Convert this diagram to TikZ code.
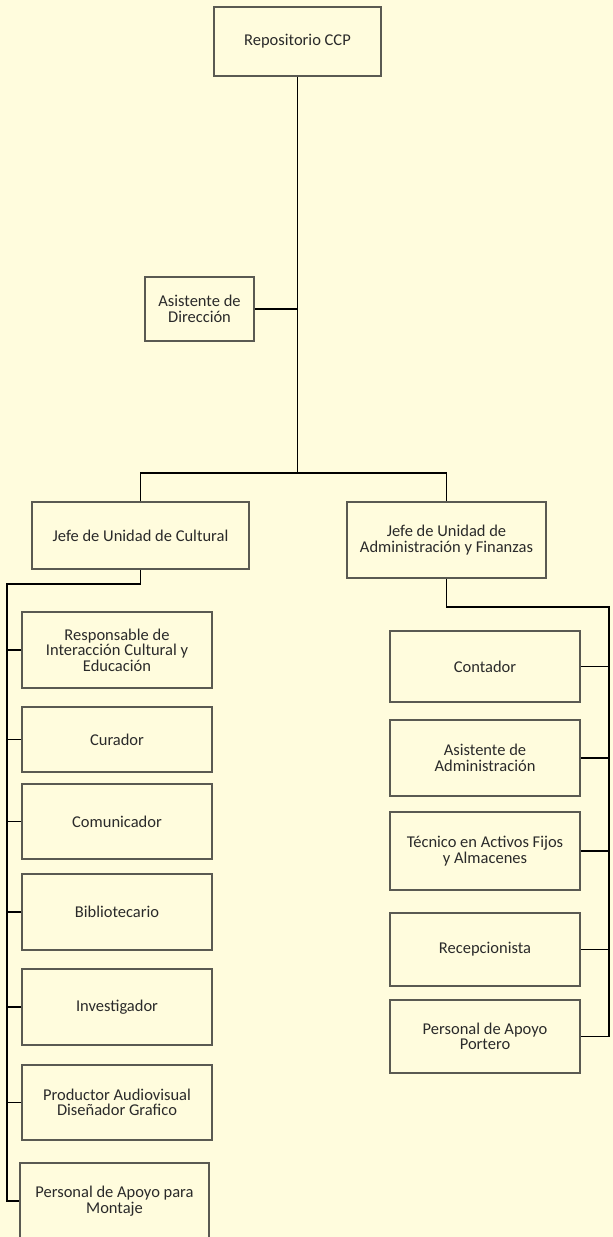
\documentclass[tikz,border=0pt]{standalone}
\usepackage{fontspec}
\setmainfont{Carlito}
\definecolor{paper}{HTML}{FFFCDD}
\definecolor{boxline}{HTML}{5A5A52}
\definecolor{ink}{HTML}{2A2A2A}
\tikzset{
orgbox/.style={draw=boxline,line width=1.2pt,inner sep=0pt,align=center,text=ink,
  font=\fontsize{16.5pt}{15.5pt}\selectfont},
link/.style={draw=black,line width=1.5pt}
}
\begin{document}
\begin{tikzpicture}[x=1pt,y=-1pt]
\fill[paper] (0,0) rectangle (613,1237);
\useasboundingbox (0,0) rectangle (613,1237);
\node[orgbox,minimum width=167pt,minimum height=69pt] (repo) at (297.5,41.5) {Repositorio CCP};
\node[orgbox,minimum width=109pt,minimum height=64pt] (asist) at (199.5,309) {Asistente de\\Dirección};
\node[orgbox,minimum width=217pt,minimum height=67pt] (jcult) at (140.5,535.5) {Jefe de Unidad de Cultural};
\node[orgbox,minimum width=199pt,minimum height=76pt] (jadm) at (446.5,540) {Jefe de Unidad de\\Administración y Finanzas};
\node[orgbox,minimum width=190pt,minimum height=76pt] (resp) at (117,650) {Responsable de\\Interacción Cultural y\\Educación};
\node[orgbox,minimum width=190pt,minimum height=65pt] (cura) at (117,739.5) {Curador};
\node[orgbox,minimum width=190pt,minimum height=75pt] (comu) at (117,821.5) {Comunicador};
\node[orgbox,minimum width=190pt,minimum height=76pt] (bibl) at (117,912) {Bibliotecario};
\node[orgbox,minimum width=190pt,minimum height=76pt] (inve) at (117,1007) {Investigador};
\node[orgbox,minimum width=190pt,minimum height=75pt] (prod) at (117,1102.5) {Productor Audiovisual\\Diseñador Grafico};
\node[orgbox,minimum width=189pt,minimum height=76pt] (mont) at (114.5,1201) {Personal de Apoyo para\\Montaje};
\node[orgbox,minimum width=190pt,minimum height=71pt] (cont) at (485,666.5) {Contador};
\node[orgbox,minimum width=190pt,minimum height=76pt] (asad) at (485,758) {Asistente de\\Administración};
\node[orgbox,minimum width=190pt,minimum height=78pt] (tecn) at (485,851) {Técnico en Activos Fijos\\y Almacenes};
\node[orgbox,minimum width=190pt,minimum height=73pt] (rece) at (485,949.5) {Recepcionista};
\node[orgbox,minimum width=190pt,minimum height=73pt] (port) at (485,1036.5) {Personal de Apoyo\\Portero};
\coordinate (hub) at (297.5,473);
\coordinate (lbus) at (7,584);
\coordinate (rbus) at (609,607);
\draw[link] (repo.south) -- (hub);
\draw[link] (asist.east) -- (asist.east -| hub);
\draw[link] (jcult.north) |- (hub) -| (jadm.north);
\draw[link] (jcult.south) |- (lbus) -- (lbus |- mont.west) -- (mont.west);
\foreach \n in {resp,cura,comu,bibl,inve,prod}
\draw[link] (\n.west) -- (\n.west -| lbus);
\draw[link] (jadm.south) |- (rbus) -- (rbus |- port.east) -- (port.east);
\foreach \n in {cont,asad,tecn,rece}
\draw[link] (\n.east) -- (\n.east -| rbus);
\end{tikzpicture}
\end{document}
